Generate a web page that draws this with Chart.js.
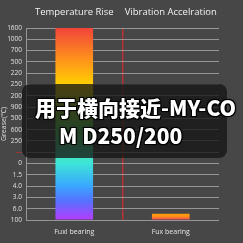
<!DOCTYPE html>
<html>
<head>
<meta charset="utf-8">
<script src="https://cdn.jsdelivr.net/npm/chart.js@4/dist/chart.umd.min.js"></script>
<style>
  html, body { margin: 0; padding: 0; background: #474747; }
  #wrap { position: relative; width: 243px; height: 243px; }
  #overlay {
    position: absolute; left: 22px; top: 84px; width: 205px; height: 74px;
    background: rgba(22, 22, 22, 0.78); border-radius: 8px;
  }
  #caption {
    position: absolute; left: 35px; top: 93px; width: 215px;
    font-family: "Noto Sans CJK SC", sans-serif; font-weight: 900;
    font-size: 21px; line-height: 28px; color: #fff;
    text-shadow: -1px -1px 0 #000, 1px -1px 0 #000, -1px 1px 0 #000, 1px 1px 0 #000, 0 0 3px #000;
    white-space: nowrap;
  }
  #caption .l2 { padding-left: 24px; }
</style>
</head>
<body>
<div id="wrap">
  <canvas id="myChart" width="243" height="243"></canvas>
  <div id="overlay"></div>
  <div id="caption">用于横向接近-MY-CO<br><span class="l2">M D250/200</span></div>
</div>
<script>
const groups = ['Temperature Rise', 'Vibration Accelration'];
const categories = ['Fuxl bearing', 'Fux bearing'];
const values = [17, 0.55];
// tick labels, top to bottom
const yLabels = ['1600', '1000', '700', '500', '220', '250', '200', '900', '500', '600', '250', '—', '0', '1.5', '4.0', '3.0', '6.0', '100'];

function barColor(c) {
    const chart = c.chart;
    const area = chart.chartArea;
    if (!area || !chart.scales.y) return '#ffa010';
    const g2d = chart.ctx;
    if (c.dataIndex === 0) {
        const g = g2d.createLinearGradient(0, area.top, 0, area.bottom);
        g.addColorStop(0, '#f2443a');
        g.addColorStop(0.18, '#ff9a18');
        g.addColorStop(0.3, '#ffd200');
        g.addColorStop(0.52, '#5fe05a');
        g.addColorStop(0.7, '#3ee6d6');
        g.addColorStop(0.82, '#3aa8ff');
        g.addColorStop(0.9, '#5572ff');
        g.addColorStop(1, '#b63cff');
        return g;
    }
    const top = chart.scales.y.getPixelForValue(values[c.dataIndex]);
    if (!isFinite(top)) return '#ffa010';
    const g = g2d.createLinearGradient(0, top, 0, area.bottom);
    g.addColorStop(0, '#ffa010');
    g.addColorStop(0.5, '#ff8a1c');
    g.addColorStop(1, '#f03c64');
    return g;
}

const ctx = document.getElementById('myChart').getContext('2d');
new Chart(ctx, {
    type: 'bar',
    data: {
        labels: categories,
        datasets: [{
            data: values,
            backgroundColor: barColor,
            borderWidth: 0,
            categoryPercentage: 1,
            barPercentage: 0.39
        }]
    },
    options: {
        responsive: false,
        animation: false,
        layout: { padding: { top: 0, right: 24, bottom: 0, left: 0 } },
        plugins: { legend: { display: false }, tooltip: { enabled: false } },
        scales: {
            x: {
                position: 'bottom',
                grid: {
                    offset: true,
                    color: (c) => c.index === 1 ? '#b83232' : 'rgba(0,0,0,0)',
                    lineWidth: 1.5,
                    drawTicks: false
                },
                border: { display: false },
                ticks: { color: '#e6e6e6', font: { family: 'Open Sans', size: 7 }, padding: 8, maxRotation: 0 },
                afterFit: (s) => { s.height = 23; }
            },
            x2: {
                position: 'top',
                type: 'category',
                labels: groups,
                grid: { display: false, drawTicks: false },
                border: { display: false },
                ticks: { color: '#f2f2f2', font: { family: 'Open Sans', size: 9.5 }, padding: 10, maxRotation: 0, minRotation: 0 },
                afterFit: (s) => { s.height = 28; }
            },
            y: {
                min: 0,
                max: 17,
                ticks: {
                    stepSize: 1,
                    autoSkip: false,
                    callback: (v) => yLabels[17 - v],
                    color: (c) => yLabels[17 - c.tick.value] === '—' ? '#e03030' : '#e0e0e0',
                    font: { family: 'Open Sans', size: 6.5 },
                    padding: 4
                },
                grid: { color: '#969696', lineWidth: 1, drawTicks: false },
                border: { color: '#969696' },
                title: {
                    display: true,
                    text: 'Grease(℃)',
                    color: '#e0e0e0',
                    font: { family: 'Open Sans', size: 7 },
                    padding: { top: 0, bottom: 1 }
                },
                afterFit: (s) => { s.width = 26; }
            }
        }
    }
});
</script>
</body>
</html>
